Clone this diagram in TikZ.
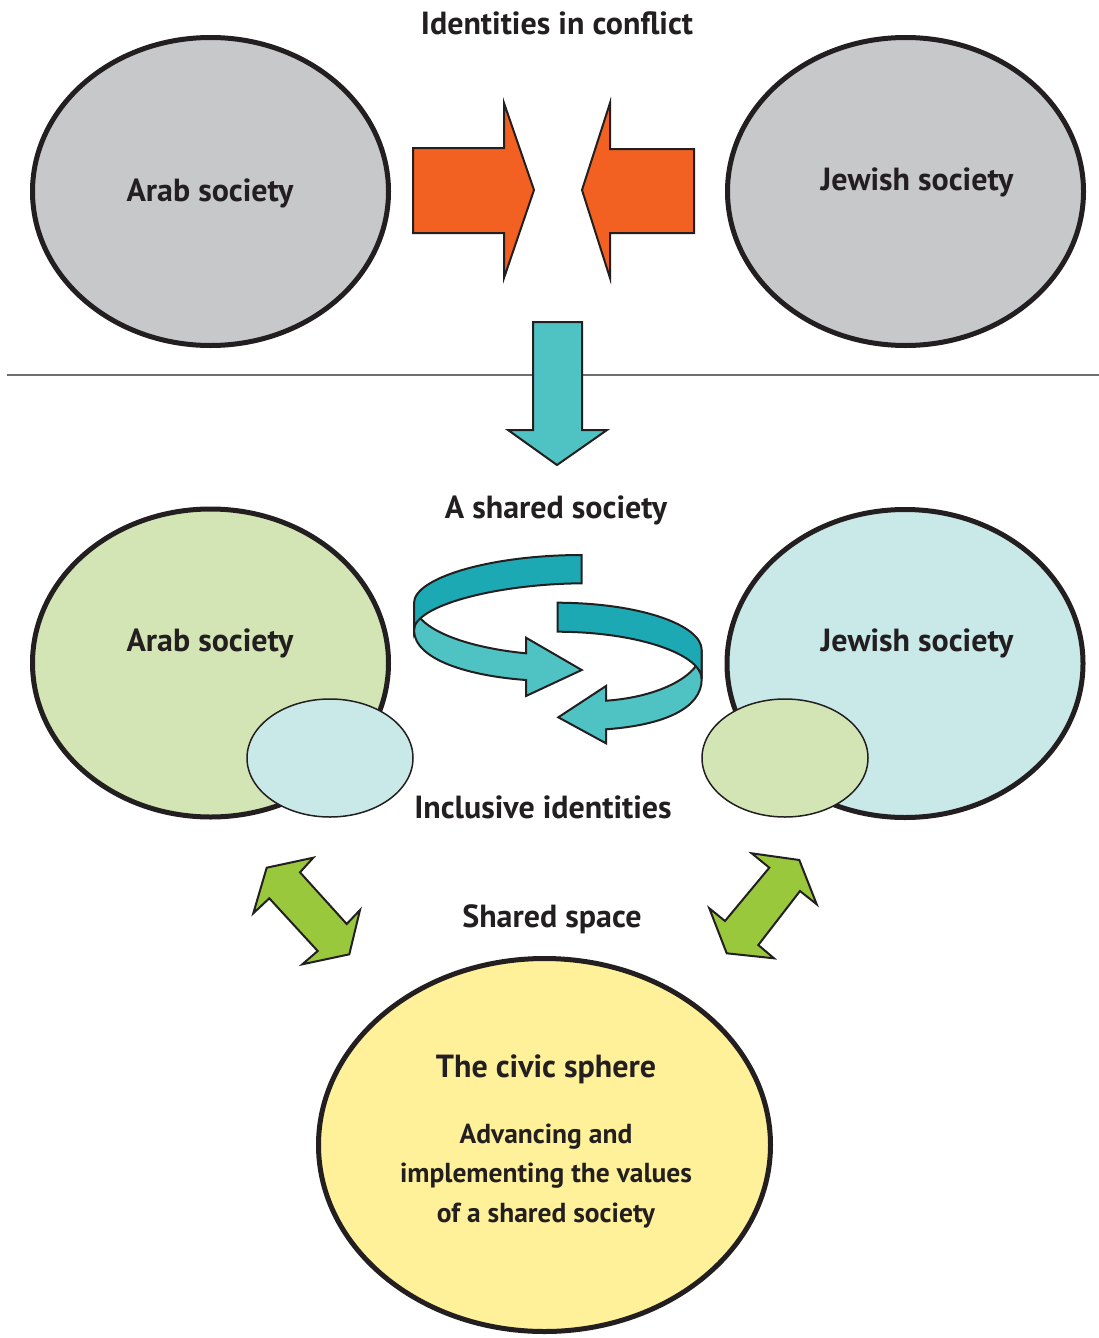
\documentclass[tikz,border=0pt]{standalone}
\usepackage{fontspec}
\setmainfont{PT Sans}
\usetikzlibrary{shapes.geometric}
\definecolor{txt}{HTML}{231F20}
\definecolor{greyfill}{HTML}{C7C8CA}
\definecolor{orangefill}{HTML}{F26122}
\definecolor{tealdark}{HTML}{1DA9B4}
\definecolor{teallight}{HTML}{4FC3C3}
\definecolor{greenlight}{HTML}{D3E5B5}
\definecolor{bluelight}{HTML}{C9E8E8}
\definecolor{yellowfill}{HTML}{FFF19A}
\definecolor{greenarrow}{HTML}{99C83C}
\definecolor{rulegrey}{HTML}{6D6E71}
\begin{document}
\begin{tikzpicture}[x=1pt,y=-1pt,
  bigell/.style={ellipse, draw=txt, line width=5pt, minimum width=356pt, minimum height=308pt, inner sep=0pt},
  smallell/.style={ellipse, draw=txt, line width=1.5pt, minimum width=166pt, minimum height=118pt, inner sep=0pt},
  shapeline/.style={draw=txt, line width=2pt, line join=miter},
  lbl/.style={text=txt, font=\bfseries\fontsize{32}{34}\selectfont, anchor=base, inner sep=0pt},
  sublbl/.style={text=txt, font=\bfseries\fontsize{27.5}{30}\selectfont, anchor=base, inner sep=0pt}]
\useasboundingbox (0,0) rectangle (1099,1338);

% separator line
\draw[rulegrey, line width=1.5pt] (7,375) -- (1099,375);

% top section
\node[lbl] (t1) at (557,35) {Identities in conflict};
\node[bigell, fill=greyfill] (arabtop) at (210.5,191.5) {};
\node[bigell, fill=greyfill] (jewtop) at (905.5,191.5) {};
\node[lbl] (arabtoplbl) at (210,201) {Arab society};
\node[lbl] (jewtoplbl) at (917,190) {Jewish society};

% converging orange arrows
\path[shapeline, fill=orangefill] (413,148) -- (504,148) -- (504,103) -- (534,190) -- (504,278) -- (504,233) -- (413,233) -- cycle;
\path[shapeline, fill=orangefill] (694,149) -- (610,149) -- (610,103) -- (582,190) -- (610,278) -- (610,233) -- (694,233) -- cycle;

% down teal arrow
\path[shapeline, fill=teallight] (533,322) -- (582,322) -- (582,430) -- (607,430) -- (557,465) -- (508,430) -- (533,430) -- cycle;

% middle section
\node[lbl] (t2) at (556,518) {A shared society};
\node[bigell, fill=greenlight] (arabmid) at (210.5,663) {};
\node[bigell, fill=bluelight] (jewmid) at (905,663.5) {};
\node[smallell, fill=bluelight] (incl1) at (330,758) {};
\node[smallell, fill=greenlight] (incl2) at (785,758) {};
\node[lbl] (arabmidlbl) at (210,651) {Arab society};
\node[lbl] (jewmidlbl) at (917,651) {Jewish society};
\node[lbl] (incllbl) at (543,818) {Inclusive identities};

% swirl ribbon 1 (front face then back face)
\path[shapeline, fill=teallight] (414,603) .. controls (414,630) and (470,648) .. (526,653.3)
  -- (526,637.7) -- (581.7,670) -- (526,696) -- (526,680)
  .. controls (470,676) and (414,660) .. (414,630) -- cycle;
\path[shapeline, fill=tealdark] (581.7,555) .. controls (490,555) and (414,578) .. (414,603)
  -- (414,630) .. controls (414,606) and (495,584) .. (581.7,583.3) -- cycle;

% swirl ribbon 2
\path[shapeline, fill=teallight] (701.7,650) .. controls (701.7,675) and (660,697) .. (606,700.7)
  -- (606,686) -- (558.3,717.3) -- (606,743.3) -- (606,729.3)
  .. controls (665,725) and (701.7,708) .. (701.7,679) -- cycle;
\path[shapeline, fill=tealdark] (557.7,602.7) .. controls (640,603) and (701.7,625) .. (701.7,650)
  -- (701.7,679) .. controls (701.7,655) and (640,632) .. (557.7,631.7) -- cycle;

% bottom section
\node[lbl] (t3) at (552,927) {Shared space};
\node[ellipse, draw=txt, line width=5pt, minimum width=452pt, minimum height=373pt, inner sep=0pt, fill=yellowfill] (civic) at (544.5,1145) {};
\node[lbl] (civiclbl) at (546,1077) {The civic sphere};
\node[sublbl] (civ1) at (546,1143) {Advancing and};
\node[sublbl] (civ2) at (546,1182) {implementing the values};
\node[sublbl] (civ3) at (546,1222) {of a shared society};

% green double arrows
\path[shapeline, fill=greenarrow] (266.7,867.7) -- (313.3,857.7) -- (300,872.3) -- (346.7,924) -- (360,910)
  -- (349.3,954.3) -- (302.3,964.3) -- (317.7,951) -- (269.3,898.3) -- (253.3,913.3) -- cycle;
\path[shapeline, fill=greenarrow] (799.3,860) -- (751.7,853.3) -- (769.3,867.7) -- (725,921) -- (709.3,908.3)
  -- (726.7,953.3) -- (774,958.3) -- (758.3,945) -- (800,891) -- (816.7,904.3) -- cycle;
\end{tikzpicture}
\end{document}
